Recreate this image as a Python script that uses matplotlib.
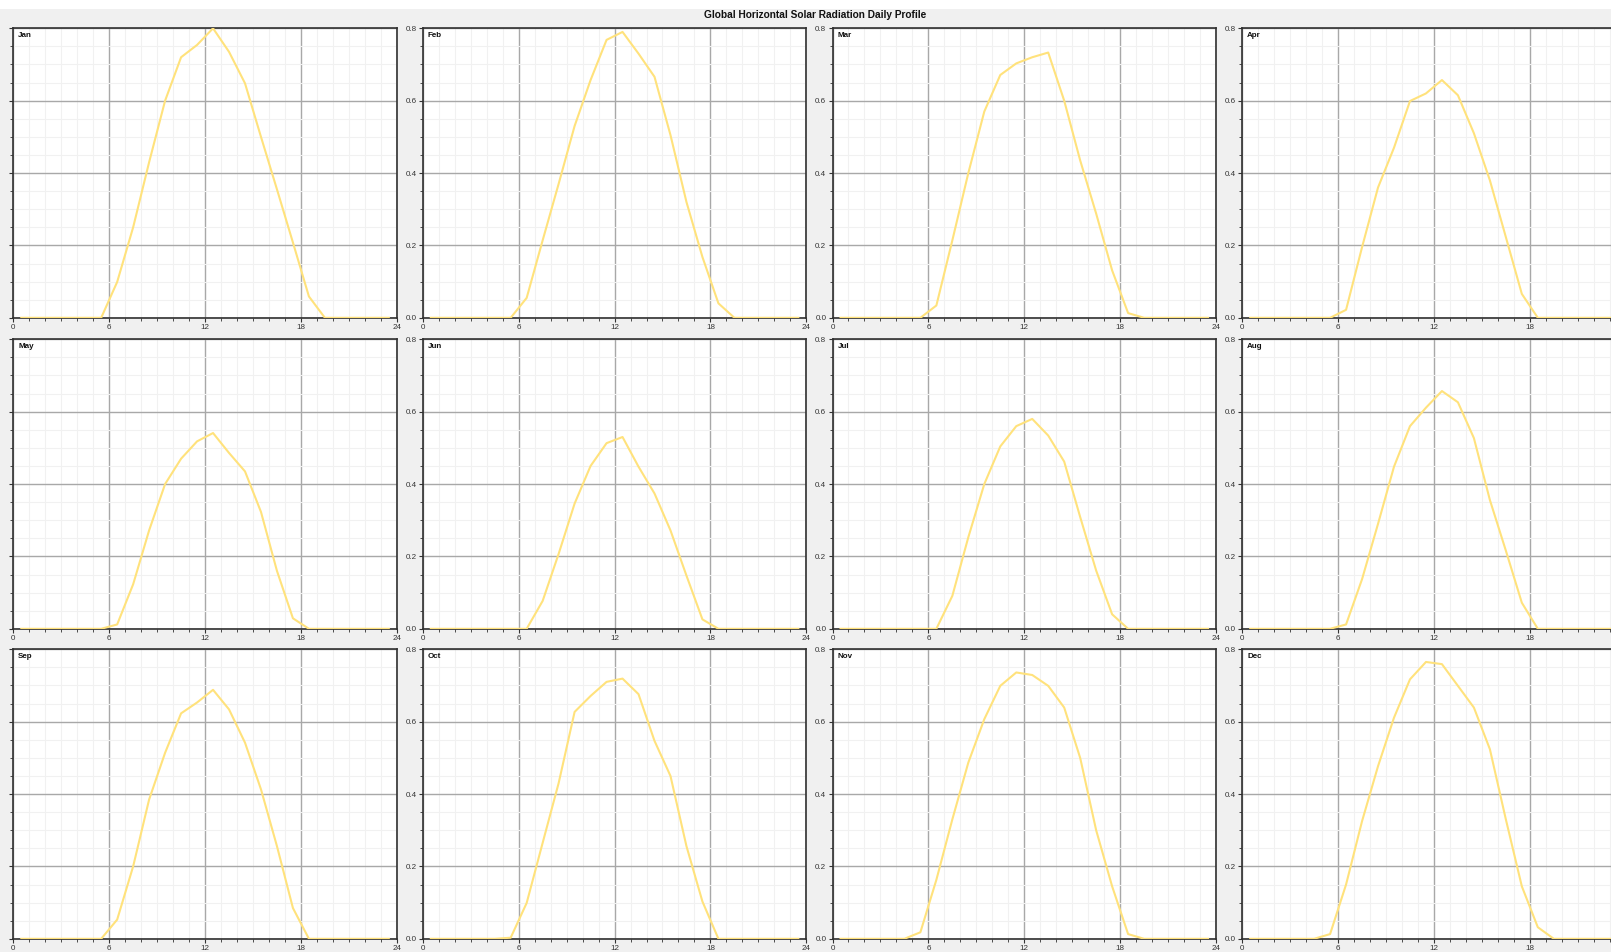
import matplotlib
matplotlib.use("Agg")
import matplotlib.pyplot as plt
from matplotlib.patches import Rectangle
from matplotlib.ticker import MultipleLocator

plt.rcParams['font.family'] = ['Liberation Sans', 'DejaVu Sans']

# Hourly mid-points (h)
hours = [0.5, 1.5, 2.5, 3.5, 4.5, 5.5, 6.5, 7.5, 8.5, 9.5, 10.5, 11.5,
         12.5, 13.5, 14.5, 15.5, 16.5, 17.5, 18.5, 19.5, 20.5, 21.5, 22.5, 23.5]

months = ["Jan", "Feb", "Mar", "Apr", "May", "Jun",
          "Jul", "Aug", "Sep", "Oct", "Nov", "Dec"]

# Global horizontal radiation (kW/m2) per hour of the average day
jan = [0, 0, 0, 0, 0, 0, 0.099, 0.25, 0.43, 0.60, 0.72, 0.754,
       0.80, 0.735, 0.648, 0.50, 0.355, 0.208, 0.059, 0, 0, 0, 0, 0]
feb = [0, 0, 0, 0, 0, 0, 0.055, 0.214, 0.37, 0.53, 0.657, 0.768,
       0.79, 0.73, 0.666, 0.505, 0.32, 0.168, 0.04, 0, 0, 0, 0, 0]
mar = [0, 0, 0, 0, 0, 0, 0.034, 0.214, 0.40, 0.57, 0.671, 0.703,
       0.72, 0.733, 0.60, 0.435, 0.288, 0.131, 0.013, 0, 0, 0, 0, 0]
apr = [0, 0, 0, 0, 0, 0, 0.022, 0.195, 0.36, 0.47, 0.599, 0.62,
       0.657, 0.615, 0.51, 0.38, 0.223, 0.066, 0, 0, 0, 0, 0, 0]
may = [0, 0, 0, 0, 0, 0, 0.012, 0.123, 0.272, 0.40, 0.47, 0.518,
       0.541, 0.486, 0.435, 0.323, 0.16, 0.029, 0, 0, 0, 0, 0, 0]
jun = [0, 0, 0, 0, 0, 0, 0, 0.077, 0.207, 0.346, 0.45, 0.513,
       0.53, 0.448, 0.374, 0.272, 0.147, 0.026, 0, 0, 0, 0, 0, 0]
jul = [0, 0, 0, 0, 0, 0, 0, 0.091, 0.253, 0.40, 0.504, 0.56,
       0.58, 0.534, 0.462, 0.309, 0.161, 0.04, 0, 0, 0, 0, 0, 0]
aug = [0, 0, 0, 0, 0, 0, 0.012, 0.137, 0.29, 0.448, 0.56, 0.611,
       0.657, 0.626, 0.527, 0.356, 0.216, 0.072, 0, 0, 0, 0, 0, 0]
sep = [0, 0, 0, 0, 0, 0, 0.053, 0.20, 0.385, 0.514, 0.623, 0.653,
       0.688, 0.634, 0.542, 0.413, 0.256, 0.085, 0, 0, 0, 0, 0, 0]
oct_ = [0, 0, 0, 0, 0, 0.003, 0.099, 0.265, 0.43, 0.627, 0.671, 0.71,
        0.719, 0.676, 0.547, 0.45, 0.256, 0.103, 0, 0, 0, 0, 0, 0]
nov = [0, 0, 0, 0, 0, 0.018, 0.163, 0.33, 0.487, 0.607, 0.699, 0.736,
       0.729, 0.699, 0.639, 0.50, 0.30, 0.145, 0.013, 0, 0, 0, 0, 0]
dec = [0, 0, 0, 0, 0, 0.013, 0.15, 0.325, 0.477, 0.611, 0.717, 0.765,
       0.759, 0.699, 0.639, 0.524, 0.33, 0.145, 0.032, 0, 0, 0, 0, 0]

series = [jan, feb, mar, apr, may, jun, jul, aug, sep, oct_, nov, dec]

x_ticks = [0, 6, 12, 18, 24]
y_ticks = [0.0, 0.2, 0.4, 0.6, 0.8]

W, H = 1611, 952
fig = plt.figure(figsize=(W / 100, H / 100), dpi=100, facecolor="#f0f0f0")

# white strip above the title band
fig.patches.append(Rectangle((0, 1 - 9 / H), 1, 9 / H, transform=fig.transFigure,
                             facecolor="white", edgecolor="none", zorder=0))

fig.text(815 / W, 1 - 14.5 / H, "Global Horizontal Solar Radiation Daily Profile",
         ha="center", va="center", fontsize=7.3, fontweight="bold", color="#111111")

col_left = [13.3, 422.8, 832.5, 1242.2]
row_top = [28.3, 339.3, 649.3]
pw, ph = 383.5, 289.5

line_color = "#ffe27c"
edge = "#303030"
tick_col = "#333333"

for i, (name, vals) in enumerate(zip(months, series)):
    r, c = divmod(i, 4)
    left = col_left[c]
    top = row_top[r]
    ax = fig.add_axes([left / W, 1 - (top + ph) / H, pw / W, ph / H])
    ax.set_facecolor("white")
    ax.set_xlim(0, 24)
    ax.set_ylim(0, 0.8)

    ax.xaxis.set_major_locator(MultipleLocator(6))
    ax.xaxis.set_minor_locator(MultipleLocator(1))
    ax.yaxis.set_major_locator(MultipleLocator(0.2))
    ax.yaxis.set_minor_locator(MultipleLocator(0.05))

    ax.grid(which="minor", color="#f1f1f1", linewidth=0.8, zorder=0)
    ax.grid(which="major", color="#a8a8a8", linewidth=1.0, zorder=1)
    ax.set_axisbelow(True)

    ax.plot(hours, vals, color=line_color, linewidth=1.5, zorder=3,
            solid_joinstyle="round")

    for s in ax.spines.values():
        s.set_color(edge)
        s.set_linewidth(1.2)

    ax.tick_params(which="major", direction="out", length=3, width=0.8,
                   color=tick_col, labelsize=5.8, labelcolor=tick_col, pad=1.5,
                   top=False, right=False)
    ax.tick_params(which="minor", direction="out", length=2, width=0.6,
                   color=tick_col, top=False, right=False)

    ax.set_xticks(x_ticks)
    if c == 3:
        ax.set_xticklabels(["0", "6", "12", "18", ""])
    else:
        ax.set_xticklabels([str(t) for t in x_ticks])
    ax.set_yticks(y_ticks)
    ax.set_yticklabels([f"{t:.1f}" for t in y_ticks])
    if c == 0:
        ax.tick_params(axis="y", labelleft=False)

    ax.annotate(name, xy=(0, 1), xycoords="axes fraction",
                xytext=(5, -4), textcoords="offset pixels",
                ha="left", va="top", fontsize=5.8, fontweight="bold",
                color="#111111")

fig.savefig("out.png", dpi=100, facecolor=fig.get_facecolor())
